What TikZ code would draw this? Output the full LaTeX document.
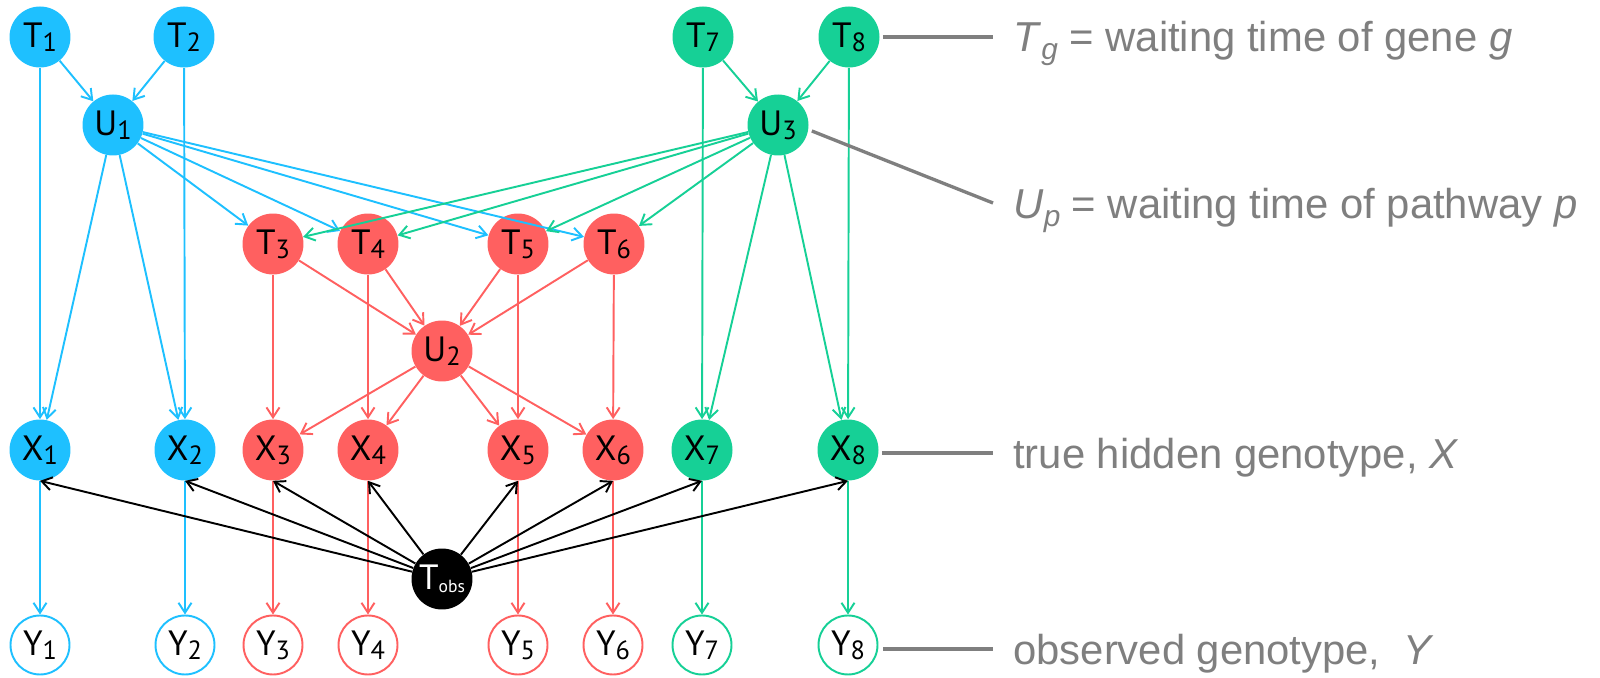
\documentclass[tikz,border=0pt]{standalone}
\usepackage{fontspec}
\setmainfont{PT Sans}
\newfontfamily\notefont{Liberation Sans}
\usetikzlibrary{arrows.meta}
\definecolor{gblue}{HTML}{1EC0FF}
\definecolor{ggreen}{HTML}{16D096}
\definecolor{gred}{HTML}{FF6060}
\definecolor{ggray}{HTML}{7F7F7F}
\tikzstyle{var} = [
    circle,
    minimum size=1.22cm,
    inner sep=0pt,
    draw=none
]
\tikzstyle{obs} = [
    circle,
    minimum size=1.18cm,
    inner sep=0pt,
    fill=white,
    line width=1.1pt
]
\tikzstyle{arrow} = [line width=1.1pt,-{Straight Barb[length=2mm,width=2.6mm]}]
\tikzstyle{note} = [ggray,line width=1.9pt]
\tikzstyle{notetext} = [anchor=base west,inner sep=0pt,text=ggray,font=\notefont\fontsize{23.8}{24}\selectfont]
\newcommand{\nlab}[2]{{\fontsize{20}{20}\selectfont #1}\raisebox{-2.3pt}{\fontsize{15}{15}\selectfont #2}}
\newcommand{\nsub}[2]{\textit{#1}\raisebox{-4pt}{\fontsize{17}{17}\selectfont\textit{#2}}}

\begin{document}
\begin{tikzpicture}[x=0.02cm,y=-0.02cm]
\useasboundingbox (0,0) rectangle (1600,678);

% gene and pathway waiting times
\node (t1) [var, fill=gblue] at (40,37) {\nlab{T}{1}};
\node (t2) [var, fill=gblue] at (184,37) {\nlab{T}{2}};
\node (t7) [var, fill=ggreen] at (703,37) {\nlab{T}{7}};
\node (t8) [var, fill=ggreen] at (849,37) {\nlab{T}{8}};

\node (u1) [var, fill=gblue] at (113,125) {\nlab{U}{1}};
\node (u3) [var, fill=ggreen] at (778,125) {\nlab{U}{3}};

\node (t3) [var, fill=gred] at (273,244) {\nlab{T}{3}};
\node (t4) [var, fill=gred] at (368,244) {\nlab{T}{4}};
\node (t5) [var, fill=gred] at (518,244) {\nlab{T}{5}};
\node (t6) [var, fill=gred] at (614,244) {\nlab{T}{6}};

\node (u2) [var, fill=gred] at (442,351) {\nlab{U}{2}};

% hidden genotypes
\node (x1) [var, fill=gblue] at (40,450) {\nlab{X}{1}};
\node (x2) [var, fill=gblue] at (185,450) {\nlab{X}{2}};
\node (x3) [var, fill=gred] at (273,450) {\nlab{X}{3}};
\node (x4) [var, fill=gred] at (368,450) {\nlab{X}{4}};
\node (x5) [var, fill=gred] at (518,450) {\nlab{X}{5}};
\node (x6) [var, fill=gred] at (613,450) {\nlab{X}{6}};
\node (x7) [var, fill=ggreen] at (702,450) {\nlab{X}{7}};
\node (x8) [var, fill=ggreen] at (848,450) {\nlab{X}{8}};

\node (tobs) [var, fill=black, text=white] at (442,579)
{{\fontsize{20}{20}\selectfont T}\raisebox{-2pt}{\fontsize{10}{10}\selectfont obs}};

% observed genotypes
\node (y1) [obs, draw=gblue] at (40,645) {\nlab{Y}{1}};
\node (y2) [obs, draw=gblue] at (185,645) {\nlab{Y}{2}};
\node (y3) [obs, draw=gred] at (273,645) {\nlab{Y}{3}};
\node (y4) [obs, draw=gred] at (368,645) {\nlab{Y}{4}};
\node (y5) [obs, draw=gred] at (518,645) {\nlab{Y}{5}};
\node (y6) [obs, draw=gred] at (613,645) {\nlab{Y}{6}};
\node (y7) [obs, draw=ggreen] at (702,645) {\nlab{Y}{7}};
\node (y8) [obs, draw=ggreen] at (848,645) {\nlab{Y}{8}};

% pathway 1
\draw [arrow, gblue] (t1) -- (u1);
\draw [arrow, gblue] (t2) -- (u1);
\draw [arrow, gblue] (t1) -- (x1);
\draw [arrow, gblue] (t2) -- (x2);
\draw [arrow, gblue] (u1) -- (x1);
\draw [arrow, gblue] (u1) -- (x2);
\draw [arrow, gblue] (u1) -- (t3);
\draw [arrow, gblue] (u1) -- (t4);
\draw [arrow, gblue] (u1) -- (t5);
\draw [arrow, gblue] (u1) -- (t6);
\draw [arrow, gblue] (x1) -- (y1);
\draw [arrow, gblue] (x2) -- (y2);

% pathway 3
\draw [arrow, ggreen] (t7) -- (u3);
\draw [arrow, ggreen] (t8) -- (u3);
\draw [arrow, ggreen] (t7) -- (x7);
\draw [arrow, ggreen] (t8) -- (x8);
\draw [arrow, ggreen] (u3) -- (x7);
\draw [arrow, ggreen] (u3) -- (x8);
\draw [arrow, ggreen] (u3) -- (t3);
\draw [arrow, ggreen] (u3) -- (t4);
\draw [arrow, ggreen] (u3) -- (t5);
\draw [arrow, ggreen] (u3) -- (t6);
\draw [arrow, ggreen] (x7) -- (y7);
\draw [arrow, ggreen] (x8) -- (y8);

% pathway 2
\draw [arrow, gred] (t3) -- (u2);
\draw [arrow, gred] (t4) -- (u2);
\draw [arrow, gred] (t5) -- (u2);
\draw [arrow, gred] (t6) -- (u2);
\draw [arrow, gred] (t3) -- (x3);
\draw [arrow, gred] (t4) -- (x4);
\draw [arrow, gred] (t5) -- (x5);
\draw [arrow, gred] (t6) -- (x6);
\draw [arrow, gred] (u2) -- (x3);
\draw [arrow, gred] (u2) -- (x4);
\draw [arrow, gred] (u2) -- (x5);
\draw [arrow, gred] (u2) -- (x6);
\draw [arrow, gred] (x3) -- (y3);
\draw [arrow, gred] (x4) -- (y4);
\draw [arrow, gred] (x5) -- (y5);
\draw [arrow, gred] (x6) -- (y6);

% observation time
\draw [arrow, black] (tobs) -- (x1.south);
\draw [arrow, black] (tobs) -- (x2.south);
\draw [arrow, black] (tobs) -- (x3.south);
\draw [arrow, black] (tobs) -- (x4.south);
\draw [arrow, black] (tobs) -- (x5.south);
\draw [arrow, black] (tobs) -- (x6.south);
\draw [arrow, black] (tobs) -- (x7.south);
\draw [arrow, black] (tobs) -- (x8.south);

% notes
\coordinate (ntg) at (993,37);
\coordinate (nup) at (993,203);
\coordinate (nx) at (993,453);
\coordinate (ny) at (993,649);
\draw [note] ([xshift=0.06cm]t8.east) -- (ntg);
\draw [note] ([shift={(0.06cm,-0.12cm)}]u3.east) -- (nup);
\draw [note] ([xshift=0.06cm]x8.east |- nx) -- (nx);
\draw [note] ([xshift=0.1cm]y8.east |- ny) -- (ny);
\node (ltg) [notetext] at (1013,52) {\nsub{T}{g} = waiting time of gene \textit{g}};
\node (lup) [notetext] at (1013,219) {\nsub{U}{p} = waiting time of pathway \textit{p}};
\node (lx) [notetext] at (1013,469) {true hidden genotype, \textit{X}};
\node (ly) [notetext] at (1013,665) {observed genotype, \ \textit{Y}};

\end{tikzpicture}
\end{document}
